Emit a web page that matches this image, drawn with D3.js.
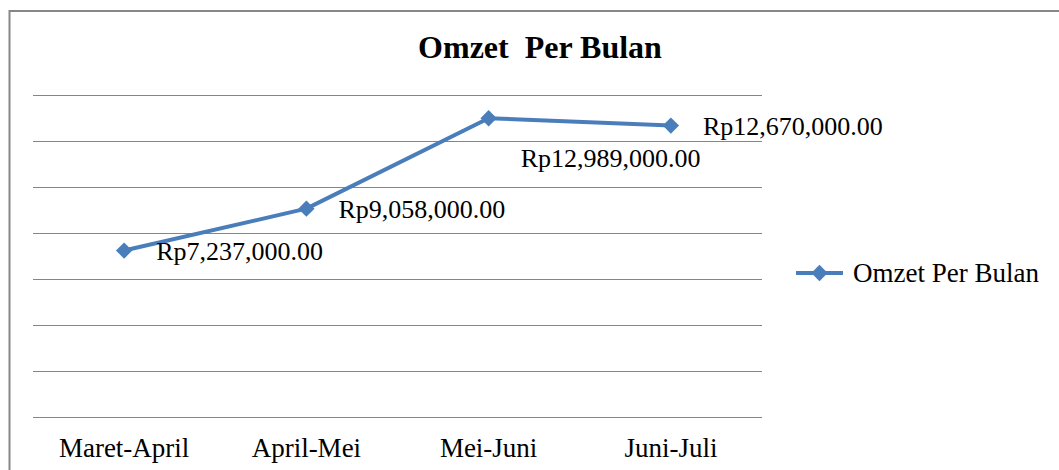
<!DOCTYPE html>
<html>
<head>
<meta charset="utf-8">
<script src="https://cdnjs.cloudflare.com/ajax/libs/d3/7.8.5/d3.min.js"></script>
<style>
  body { margin: 0; background: #fff; }
</style>
</head>
<body>
<div id="chart"></div>
<script>
const periods = ["Maret-April", "April-Mei", "Mei-Juni", "Juni-Juli"];
const omzet = [7237000, 9058000, 12989000, 12670000];
const yTicks = [0, 2000000, 4000000, 6000000, 8000000, 10000000, 12000000, 14000000];
const seriesName = "Omzet Per Bulan";
const chartTitle = "Omzet  Per Bulan";

const width = 1059, height = 470;
const plotLeft = 33, plotRight = 762, plotTop = 95, plotBottom = 417;
const blue = "#4a7ebb";
const serif = "'Liberation Serif', 'Times New Roman', serif";

const svg = d3.select("#chart").append("svg")
    .attr("width", width)
    .attr("height", height)
    .style("font-family", serif);

// outer frame (only top and left visible in the crop)
svg.append("rect")
    .attr("x", 9.5).attr("y", 11)
    .attr("width", width + 20).attr("height", height + 20)
    .attr("fill", "none")
    .attr("stroke", "#878787")
    .attr("stroke-width", 2);

const x = d3.scaleBand().domain(periods).range([plotLeft, plotRight]);
const y = d3.scaleLinear().domain([0, 14000000]).range([plotBottom, plotTop]);

// gridlines
const yAxis = d3.axisLeft(y).tickValues(yTicks).tickSize(-(plotRight - plotLeft)).tickFormat("");
svg.append("g")
    .attr("transform", "translate(" + plotLeft + ",0)")
    .call(yAxis)
    .call(g => g.select(".domain").remove())
    .call(g => g.selectAll(".tick line").attr("stroke", "#868686").attr("stroke-width", 1));

// category labels
const xAxis = d3.axisBottom(x).tickSize(0).tickPadding(0);
svg.append("g")
    .attr("transform", "translate(0," + plotBottom + ")")
    .call(xAxis)
    .call(g => g.select(".domain").remove())
    .call(g => g.selectAll(".tick text")
        .attr("y", 40)
        .attr("dy", null)
        .attr("fill", "#000")
        .style("font-size", "27px")
        .style("font-family", serif));

const cx = d => x(d.p) + x.bandwidth() / 2;
const pts = periods.map((p, i) => ({ p: p, v: omzet[i], i: i }));

const line = d3.line().x(cx).y(d => y(d.v));
svg.append("path")
    .datum(pts)
    .attr("d", line)
    .attr("fill", "none")
    .attr("stroke", blue)
    .attr("stroke-width", 4)
    .attr("stroke-linejoin", "round");

const diamond = d3.symbol().type(d3.symbolDiamond2).size(170);
svg.selectAll(".marker")
    .data(pts)
    .enter()
    .append("path")
    .attr("class", "marker")
    .attr("transform", d => "translate(" + cx(d) + "," + y(d.v) + ")")
    .attr("d", diamond)
    .attr("fill", blue);

const fmt = d => "Rp" + d3.format(",.2f")(d);
svg.selectAll(".lbl")
    .data(pts)
    .enter()
    .append("text")
    .attr("class", "lbl")
    .attr("x", d => cx(d) + 32)
    // third label was dragged below its point in the original
    .attr("y", d => y(d.v) + (d.i === 2 ? 49 : 9))
    .attr("fill", "#000")
    .style("font-family", serif)
    .style("font-size", "26px")
    .text(d => fmt(d.v));

// title
svg.append("text")
    .attr("x", 540)
    .attr("y", 58)
    .attr("text-anchor", "middle")
    .attr("fill", "#000")
    .style("font-family", serif)
    .style("font-size", "32px")
    .style("font-weight", "bold")
    .style("white-space", "pre")
    .text(chartTitle);

// legend
const lg = svg.append("g").attr("transform", "translate(796,273)");
lg.append("line")
    .attr("x1", 0).attr("x2", 47)
    .attr("stroke", blue).attr("stroke-width", 4);
lg.append("path")
    .attr("transform", "translate(23.5,0)")
    .attr("d", diamond)
    .attr("fill", blue);
lg.append("text")
    .attr("x", 57)
    .attr("y", 9)
    .attr("fill", "#000")
    .style("font-family", serif)
    .style("font-size", "27px")
    .text(seriesName);
</script>
</body>
</html>
